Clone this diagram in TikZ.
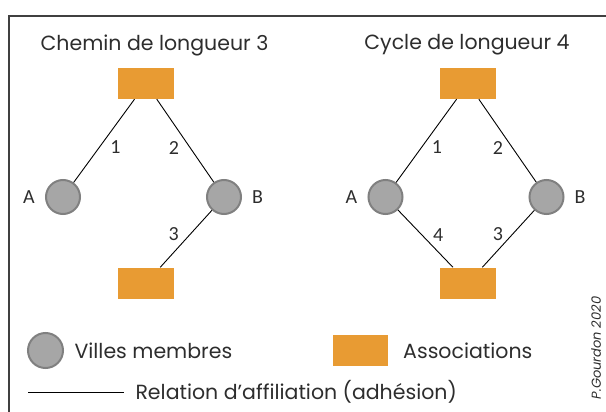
\documentclass[tikz,border=0pt]{standalone}
\usepackage{fontspec}
\setmainfont{Poppins}
\newfontfamily\lblfont{Carlito}
\usetikzlibrary{positioning}
\definecolor{assoc}{RGB}{232,155,51}
\definecolor{ville}{RGB}{166,166,166}
\definecolor{villebord}{RGB}{128,128,128}
\definecolor{texte}{RGB}{45,45,45}

\begin{document}
\begin{tikzpicture}[x=1pt,y=-1pt,node distance=9pt]
  \tikzstyle{assocbox}=[fill=assoc,minimum width=56pt,minimum height=31pt,inner sep=0pt]
  \tikzstyle{ville}=[circle,fill=ville,draw=villebord,line width=2pt,minimum size=34pt,inner sep=0pt]
  \tikzstyle{lbl}=[font=\lblfont\fontsize{20}{20}\selectfont,text=texte,inner sep=1pt]
  \tikzstyle{titre}=[font=\fontsize{20.5}{20.5}\selectfont,text=texte]
  \tikzstyle{legende}=[font=\fontsize{20.5}{20.5}\selectfont,text=texte]
  \tikzstyle{lien}=[line width=0.9pt]
  \useasboundingbox (0,0) rectangle (606,412);
  \clip (0,0) rectangle (606,412);
  \draw[line width=2.2pt,draw=black!75] (620,16) -- (9,16) -- (9,430);
  % chemin de longueur 3
  \node[titre] (t1) at (154.5,45) {Chemin de longueur 3};
  \node[assocbox] (h1) at (146,83.5) {};
  \node[ville] (a1) at (63,197) {};
  \node[ville] (b1) at (224,197) {};
  \node[assocbox] (l1) at (146,283) {};
  \node[lbl,left=of a1] (la1) {A};
  \node[lbl,right=of b1] (lb1) {B};
  \draw[lien] (h1) -- node[lbl,pos=0.57,right=9pt] (e11) {1} (a1);
  \draw[lien] (h1) -- node[lbl,pos=0.59,left=10pt] (e12) {2} (b1);
  \draw[lien] (b1) -- node[lbl,pos=0.42,left=10pt] (e13) {3} (l1);
  % cycle de longueur 4
  \node[titre] (t2) at (467,45) {Cycle de longueur 4};
  \node[assocbox] (h2) at (468,83.5) {};
  \node[ville] (a2) at (385.5,197) {};
  \node[ville] (b2) at (546.5,197) {};
  \node[assocbox] (l2) at (468,283) {};
  \node[lbl,left=of a2] (la2) {A};
  \node[lbl,right=of b2] (lb2) {B};
  \draw[lien] (h2) -- node[lbl,pos=0.58,right=9pt] (e21) {1} (a2);
  \draw[lien] (h2) -- node[lbl,pos=0.585,left=8pt] (e22) {2} (b2);
  \draw[lien] (b2) -- node[lbl,pos=0.42,left=8pt] (e23) {3} (l2);
  \draw[lien] (a2) -- node[lbl,pos=0.43,right=10pt] (e24) {4} (l2);
  % legende
  \node[ville,minimum size=35pt] (lv) at (45.5,350.5) {};
  \node[legende,right=7pt of lv] (tv) {Villes membres};
  \node[assocbox,minimum width=55pt] (la) at (360,350.5) {};
  \node[legende,right=12pt of la] (ta) {Associations};
  \coordinate (r0) at (28,392);
  \coordinate (r1) at (124,392);
  \draw[lien] (r0) -- (r1);
  \node[legende,right=8pt of r1] (tr) {Relation d’affiliation (adhésion)};
  \node[font=\itshape\fontsize{13}{13}\selectfont,text=texte,rotate=90] (cr) at (596,348) {P.Gourdon 2020};
\end{tikzpicture}
\end{document}
